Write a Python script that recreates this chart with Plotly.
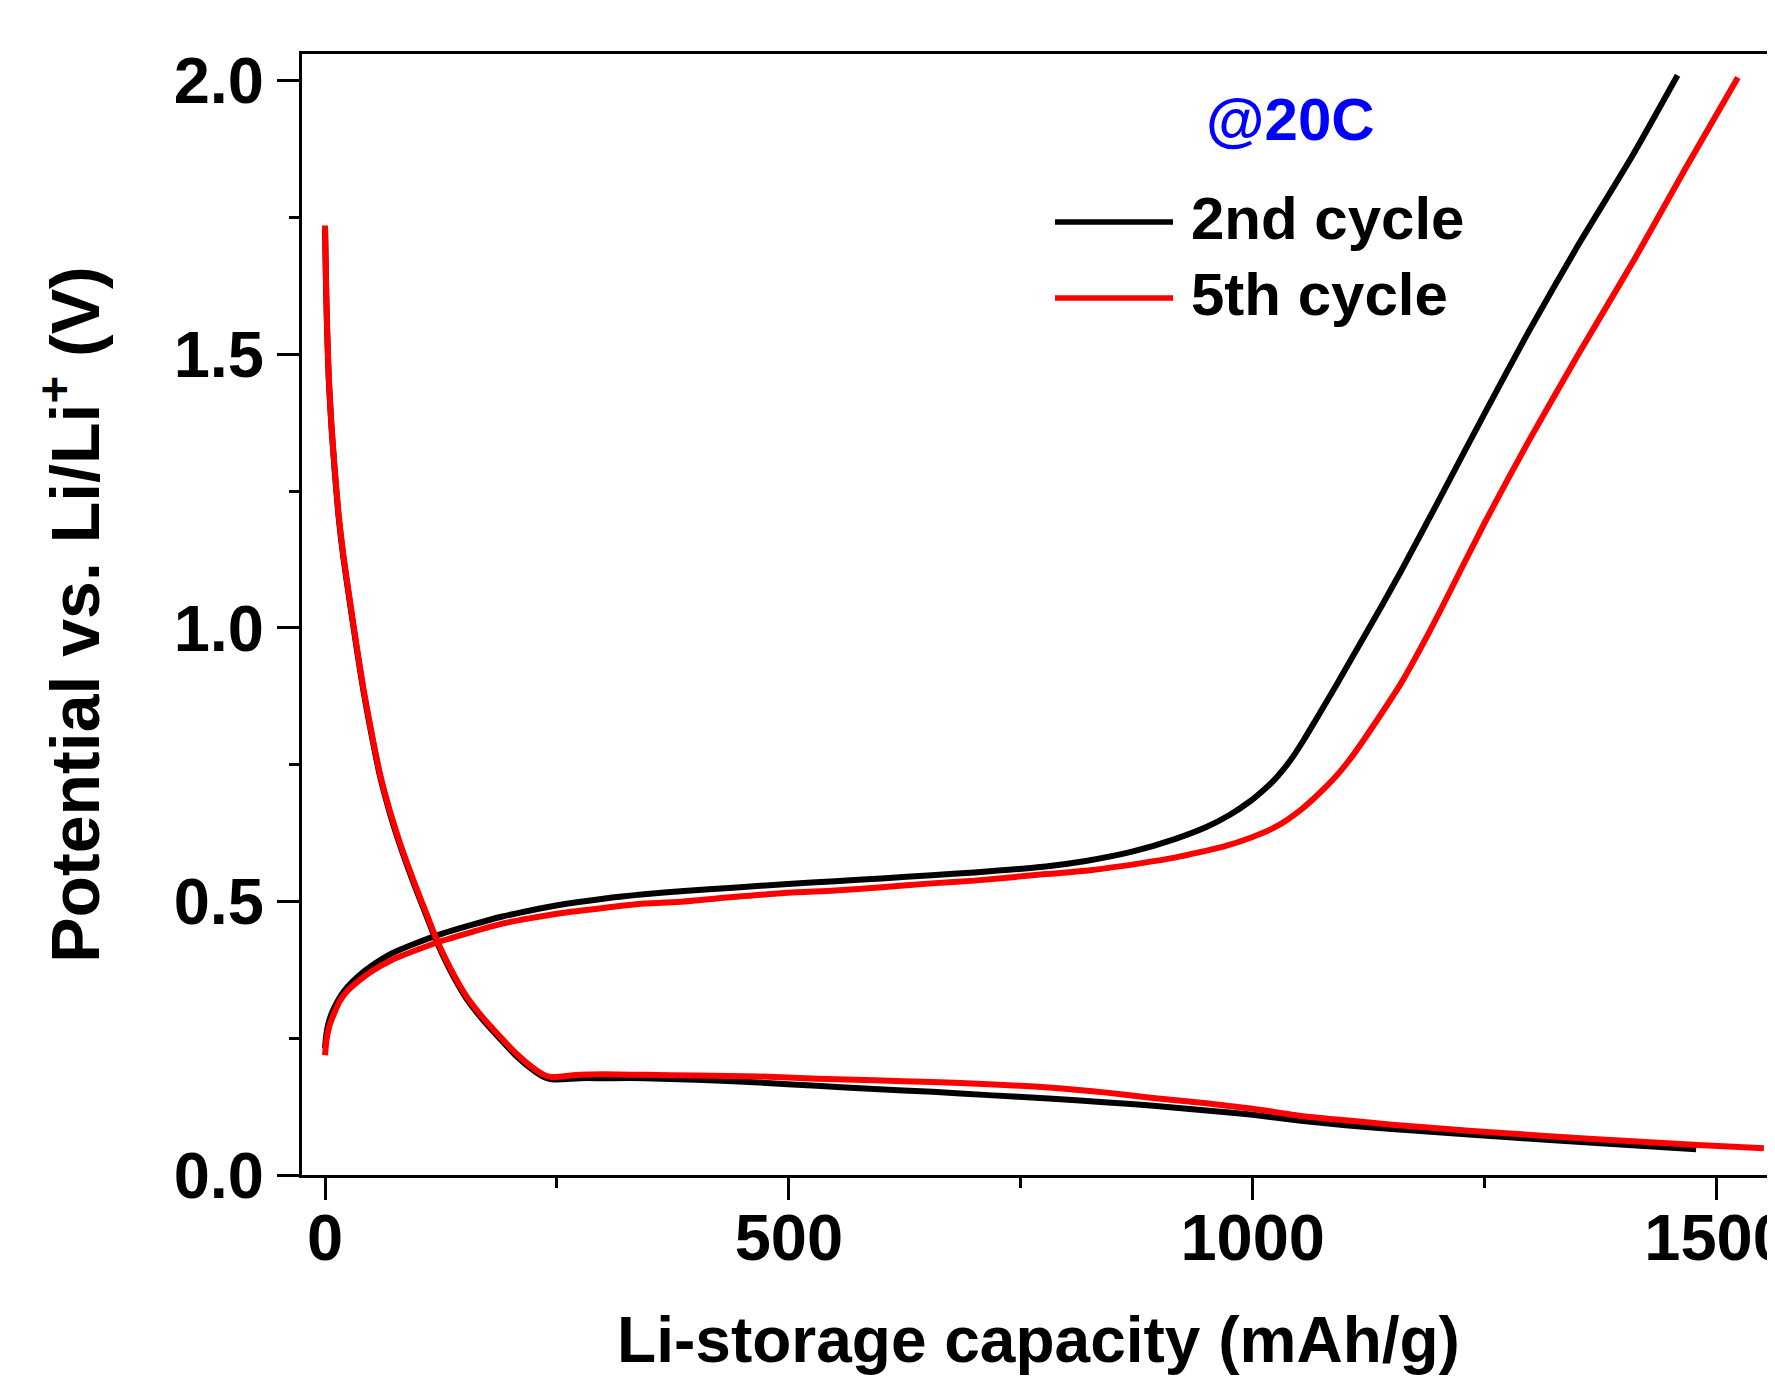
import plotly.graph_objects as go

# ---------------- data ----------------
cycle2_discharge_x = [0, 1, 2, 4, 7, 10.5, 14.5, 20, 27, 34, 41.3, 50, 59.3, 70, 80.8, 90, 98.8, 110,
                      120.4, 136, 152.7, 170, 188.6, 206, 224, 236, 244, 255, 275, 300, 344, 400, 468,
                      530, 592, 655, 715, 780, 840, 890, 950, 1000, 1052, 1100, 1150, 1233, 1320, 1405, 1478]
cycle2_discharge_y = [1.735, 1.636, 1.561, 1.456, 1.366, 1.286, 1.206, 1.126, 1.044, 0.964, 0.886, 0.806,
                      0.729, 0.661, 0.603, 0.559, 0.519, 0.471, 0.426, 0.371, 0.322, 0.284, 0.249, 0.218,
                      0.192, 0.179, 0.175, 0.175, 0.177, 0.177, 0.177, 0.174, 0.169, 0.163, 0.157, 0.152,
                      0.146, 0.140, 0.133, 0.127, 0.118, 0.110, 0.099, 0.091, 0.084, 0.074, 0.064, 0.055, 0.047]

cycle5_discharge_x = [0, 1, 2, 4, 7, 10.5, 14.5, 20, 27, 34, 41.3, 50, 59.3, 70, 80.8, 90, 98.8, 110,
                      120.4, 136, 152.7, 170, 188.6, 206, 224, 236, 244, 255, 275, 300, 344, 400, 468,
                      530, 592, 655, 715, 780, 840, 890, 950, 1000, 1052, 1100, 1150, 1233, 1320, 1405,
                      1480, 1551]
cycle5_discharge_y = [1.735, 1.64, 1.565, 1.46, 1.37, 1.29, 1.21, 1.13, 1.048, 0.968, 0.890, 0.810, 0.733,
                      0.665, 0.607, 0.563, 0.523, 0.475, 0.430, 0.375, 0.326, 0.288, 0.253, 0.222, 0.196,
                      0.183, 0.179, 0.180, 0.183, 0.184, 0.183, 0.182, 0.180, 0.176, 0.173, 0.170, 0.166,
                      0.160, 0.151, 0.141, 0.131, 0.121, 0.108, 0.100, 0.092, 0.081, 0.071, 0.062, 0.055,
                      0.049]

cycle2_charge_x = [0, 1, 2.5, 5, 10, 20, 35, 50, 72, 100, 128, 160, 190, 220, 252, 300, 344, 387, 440, 499,
                   550, 600, 654, 700, 777, 820, 870, 916, 950, 975, 998, 1010, 1021, 1032, 1044, 1055,
                   1067, 1091, 1114, 1139, 1160, 1199, 1250, 1297, 1351, 1409, 1458]
cycle2_charge_y = [0.232, 0.25, 0.268, 0.285, 0.306, 0.335, 0.362, 0.382, 0.405, 0.425, 0.442, 0.458,
                   0.472, 0.483, 0.4935, 0.505, 0.513, 0.519, 0.525, 0.532, 0.537, 0.542, 0.548, 0.553,
                   0.564, 0.574, 0.591, 0.614, 0.636, 0.658, 0.684, 0.701, 0.718, 0.739, 0.766, 0.795,
                   0.829, 0.898, 0.966, 1.040, 1.104, 1.228, 1.392, 1.540, 1.700, 1.862, 2.010]

cycle5_charge_x = [0, 1, 2.5, 5, 10, 16, 25, 35, 50, 72, 100, 128, 160, 190, 220, 252, 300, 344, 387, 440,
                   499, 550, 600, 654, 700, 777, 820, 880, 916, 943, 970, 997, 1021, 1037, 1053, 1067,
                   1081, 1093, 1104, 1118, 1132, 1160, 1188, 1203, 1250, 1297, 1351, 1412, 1466, 1523]
cycle5_charge_y = [0.219, 0.238, 0.256, 0.274, 0.296, 0.318, 0.338, 0.353, 0.372, 0.393, 0.412, 0.429,
                   0.445, 0.459, 0.469, 0.478, 0.488, 0.496, 0.500, 0.508, 0.516, 0.520, 0.526, 0.533,
                   0.538, 0.550, 0.556, 0.570, 0.580, 0.590, 0.601, 0.616, 0.633, 0.649, 0.669, 0.690,
                   0.713, 0.735, 0.758, 0.791, 0.826, 0.899, 0.985, 1.034, 1.192, 1.340, 1.500, 1.675,
                   1.838, 2.006]

series_names = ["2nd cycle", "5th cycle"]
series_colors = ["#000000", "#FF0000"]
rate_label = "@20C"
x_title = "Li-storage capacity (mAh/g)"
y_title = "Potential vs. Li/Li<sup>+</sup> (V)"

# ---------------- figure ----------------
FONT = "Liberation Sans, Arial, Helvetica, sans-serif"
OFF = 8                      # default page body margin of the html page
W, H = 1775 - OFF, 1376 - OFF
L, T, PW, PH = 294, 46, 1473, 1121
R = W - L - PW
B = H - T - PH


def px_x(p):
    """page pixel x -> paper fraction"""
    return (p - OFF - L) / PW


def px_y(p):
    """page pixel y -> paper fraction"""
    return (OFF + T + PH - p) / PH


fig = go.Figure()
curves = [
    (cycle2_discharge_x, cycle2_discharge_y, 0),
    (cycle2_charge_x, cycle2_charge_y, 0),
    (cycle5_discharge_x, cycle5_discharge_y, 1),
    (cycle5_charge_x, cycle5_charge_y, 1),
]
for xs, ys, k in curves:
    fig.add_trace(go.Scatter(
        x=xs, y=ys, mode="lines", name=series_names[k], showlegend=False,
        line=dict(color=series_colors[k], width=6, shape="spline", smoothing=0.6),
    ))

axis_common = dict(
    showgrid=False, zeroline=False, showline=True, linecolor="black", linewidth=3,
    ticks="outside", ticklen=22, tickwidth=3, tickcolor="black",
    tickfont=dict(family=FONT, size=65, color="black", weight="bold"),
    automargin=False, ticklabeloverflow="allow",
)
fig.update_xaxes(
    **axis_common, range=[-24.8, 1563], tick0=0, dtick=500, mirror=True,
    ticklabelstandoff=-18,
    minor=dict(ticks="outside", ticklen=10, tickwidth=3, tickcolor="black", dtick=250),
    title=dict(text=x_title, font=dict(family=FONT, size=64, color="black", weight="bold"), standoff=48),
)
fig.update_yaxes(
    **axis_common, range=[0, 2.0488], tick0=0, dtick=0.5, tickformat=".1f",
    ticklabelstandoff=0,
    minor=dict(ticks="outside", ticklen=10, tickwidth=3, tickcolor="black", dtick=0.25),
    title=dict(text=y_title, font=dict(family=FONT, size=68, color="black", weight="bold"), standoff=52),
)

annotations = [
    dict(text=rate_label, x=px_x(1290), y=px_y(120), xref="paper", yref="paper",
         xanchor="center", yanchor="middle", showarrow=False,
         font=dict(family=FONT, size=60, color="#0000FF", weight="bold")),
]
shapes = []
legend_rows = [(222, 218), (298, 295)]
for k, (ly, ty) in enumerate(legend_rows):
    shapes.append(dict(type="line", xref="paper", yref="paper",
                       x0=px_x(1055), x1=px_x(1173), y0=px_y(ly), y1=px_y(ly),
                       line=dict(color=series_colors[k], width=5.5)))
    annotations.append(dict(text=series_names[k], x=px_x(1189), y=px_y(ty), xref="paper", yref="paper",
                            xanchor="left", yanchor="middle", showarrow=False,
                            font=dict(family=FONT, size=60, color="black", weight="bold")))

fig.update_layout(
    width=W, height=H, margin=dict(l=L, r=R, t=T, b=B, pad=0),
    paper_bgcolor="white", plot_bgcolor="white",
    showlegend=False, annotations=annotations, shapes=shapes,
    font=dict(family=FONT, color="black"),
)

fig.write_html("out.html")
